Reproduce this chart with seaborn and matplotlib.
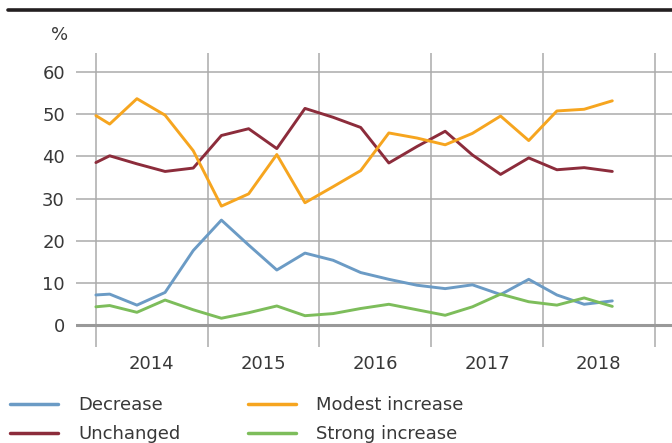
import pandas as pd
import seaborn as sns
import matplotlib.pyplot as plt
from matplotlib.lines import Line2D

# survey dates (quarterly, first reading at the start of 2014)
dates = ['2014-01-01', '2014-02-15', '2014-05-15', '2014-08-15', '2014-11-15',
         '2015-02-15', '2015-05-15', '2015-08-15', '2015-11-15',
         '2016-02-15', '2016-05-15', '2016-08-15', '2016-11-15',
         '2017-02-15', '2017-05-15', '2017-08-15', '2017-11-15',
         '2018-02-15', '2018-05-15', '2018-08-15']

decrease = [7.2, 7.4, 4.8, 7.8, 17.7, 24.9, 19.0, 13.1, 17.1, 15.4,
            12.5, 10.9, 9.5, 8.7, 9.6, 7.3, 10.9, 7.2, 5.0, 5.8]
unchanged = [38.5, 40.1, 38.2, 36.4, 37.2, 44.9, 46.5, 41.8, 51.3, 49.2,
             46.8, 38.4, 42.3, 45.9, 40.3, 35.7, 39.6, 36.8, 37.3, 36.4]
modest_increase = [49.6, 47.6, 53.6, 49.7, 41.3, 28.2, 31.1, 40.4, 29.0, 32.8,
                   36.6, 45.5, 44.3, 42.7, 45.4, 49.5, 43.7, 50.7, 51.1, 53.1]
strong_increase = [4.4, 4.7, 3.1, 6.0, 3.7, 1.7, 3.0, 4.6, 2.3, 2.8,
                   4.0, 5.0, 3.7, 2.4, 4.4, 7.4, 5.6, 4.8, 6.5, 4.5]

series_names = ['Decrease', 'Unchanged', 'Modest increase', 'Strong increase']
series_colors = ['#6b9bc5', '#8c2c3b', '#f6a51f', '#7dbd5b']
years = ['2014', '2015', '2016', '2017', '2018']

text_color = '#383838'
grid_color = '#ababab'


def build_frame() -> pd.DataFrame:
    frames = []
    for name, values in zip(series_names, [decrease, unchanged, modest_increase, strong_increase]):
        frames.append(pd.DataFrame({'date': pd.to_datetime(dates), 'value': values, 'series': name}))
    return pd.concat(frames, ignore_index=True)


def main() -> None:
    sns.set_style('white')
    plt.rcParams['font.family'] = ['DejaVu Sans']

    df = build_frame()

    fig = plt.figure(figsize=(6.72, 4.43), dpi=100)
    ax = fig.add_axes([76 / 672, 1 - 347 / 443, (672 - 76) / 672, (347 - 53) / 443])

    sns.lineplot(data=df, x='date', y='value', hue='series', hue_order=series_names,
                 palette=series_colors, linewidth=2.1, ax=ax, legend=False, zorder=3)

    start = pd.Timestamp('2014-01-01')
    ax.set_xlim(start - pd.Timedelta(days=65), pd.Timestamp('2019-01-01') + pd.Timedelta(days=56))
    ax.set_ylim(-5.1, 64.4)

    # gridlines at year boundaries, labels at mid-year
    ax.set_xticks([pd.Timestamp(f'{y}-01-01') for y in range(2014, 2020)])
    ax.set_xticklabels([])
    ax.set_xticks([pd.Timestamp(f'{y}-07-02') for y in years], minor=True)
    ax.set_xticklabels(years, minor=True)
    ax.tick_params(axis='x', which='both', length=0, pad=6, labelsize=13, labelcolor=text_color)

    ax.set_yticks(range(0, 61, 10))
    ax.tick_params(axis='y', length=0, pad=8, labelsize=13, labelcolor=text_color)

    ax.grid(True, which='major', color=grid_color, linewidth=1.1)
    ax.axhline(0, color='#999999', linewidth=2.2, zorder=2)
    for s in ax.spines.values():
        s.set_visible(False)
    ax.set_xlabel('')
    ax.set_ylabel('')

    ax.text(-0.013, 1.06, '%', transform=ax.transAxes, ha='right', va='center',
            fontsize=13, color=text_color)

    # thick rule at the top
    fig.add_artist(Line2D([8 / 672, 1], [1 - 10 / 443, 1 - 10 / 443], color='#231f20', linewidth=2.6))

    handles = [Line2D([], [], color=c, linewidth=2.5) for c in series_colors]
    fig.legend(handles, series_names, ncol=2, loc='upper left', bbox_to_anchor=(10 / 672, 1 - 396 / 443),
               frameon=False, fontsize=13, handlelength=2.65, handletextpad=1.15,
               columnspacing=3.7, labelspacing=0.6, borderpad=0, borderaxespad=0,
               labelcolor=text_color)

    plt.savefig('out.png', dpi=100)


if __name__ == '__main__':
    main()
